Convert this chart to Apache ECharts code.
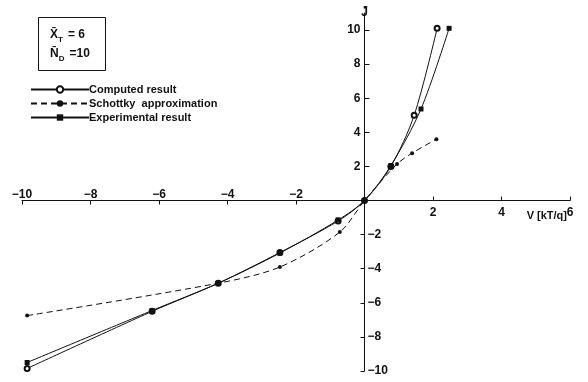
<!DOCTYPE html>
<html>
<head>
<meta charset="utf-8">
<script src="https://cdn.jsdelivr.net/npm/echarts@6/dist/echarts.min.js"></script>
<style>
  html, body { margin: 0; padding: 0; background: #fff; }
  #main { width: 588px; height: 382px; }
</style>
</head>
<body>
<div id="main"></div>
<script>
var chartDom = document.getElementById('main');
var myChart = echarts.init(chartDom);

// readings: [V, J]
var computed = [
  [-9.85, -9.85], [-6.2, -6.5], [-4.27, -4.85], [-2.47, -3.05], [-0.77, -1.2],
  [0, 0], [0.77, 2.0], [1.45, 5.0], [2.12, 10.1]
];
var schottky = [
  [-9.85, -6.75], [-4.27, -4.85], [-2.47, -3.9], [-0.72, -1.85],
  [0, 0], [0.95, 2.14], [1.39, 2.78], [2.1, 3.6]
];
var experimental = [
  [-9.85, -9.5], [-6.2, -6.45], [-4.27, -4.85], [-2.47, -3.08], [-0.77, -1.14],
  [0, 0], [0.77, 2.05], [1.65, 5.37], [2.47, 10.1]
];

var xTicksPos = [2, 4, 6];
var xTicksNeg = [-10, -8, -6, -4, -2];
var yTicksPos = [2, 4, 6, 8, 10];
var yTicksNeg = [-2, -4, -6, -8, -10];

var xMin = -10, xMax = 6, yMin = -10, yMax = 11;

var font = 'Liberation Sans';
var ink = '#111';

// grid box, and the axes crossing at the origin (offset inward from left / bottom)
var gridL = 22, gridR = 18, gridT = 13, gridB = 11;
var gridW = 588 - gridL - gridR;
var gridH = 382 - gridT - gridB;
var yAxisShift = -((0 - xMin) / (xMax - xMin)) * gridW;
var xAxisShift = -((0 - yMin) / (yMax - yMin)) * gridH;

function minus(v) {
  return String(v).replace('-', '\u2212');
}

var tickFont = { fontFamily: font, fontWeight: 'bold', fontSize: 12, color: ink };

var option = {
  animation: false,
  backgroundColor: '#fff',
  title: {
    left: 38,
    top: 17,
    text: '{x|X\u0304}{s|T} {x|= 6}\n{x|N\u0304}{s|D} {x|=10}',
    borderColor: ink,
    borderWidth: 1,
    padding: [8, 16, 8, 12],
    textStyle: {
      rich: {
        x: { fontFamily: font, fontWeight: 'bold', fontSize: 12, color: ink, lineHeight: 19 },
        s: { fontFamily: font, fontWeight: 'bold', fontSize: 8, color: ink, verticalAlign: 'bottom', lineHeight: 19 }
      }
    }
  },
  legend: {
    orient: 'vertical',
    left: 25,
    top: 79,
    itemWidth: 58,
    itemHeight: 8,
    itemGap: 3,
    textStyle: { fontFamily: font, fontWeight: 'bold', fontSize: 11, color: ink, padding: [0, 0, 0, -5] },
    data: ['Computed result', 'Schottky  approximation', 'Experimental result']
  },
  grid: {
    left: gridL,
    right: gridR,
    top: gridT,
    bottom: gridB,
    containLabel: false,
    outerBoundsMode: 'none'
  },
  xAxis: [
    {
      type: 'value',
      min: xMin,
      max: xMax,
      position: 'bottom',
      offset: xAxisShift,
      axisLine: { onZero: false, lineStyle: { color: ink, width: 1 } },
      axisTick: { inside: true, length: 4, customValues: xTicksPos, lineStyle: { color: ink } },
      axisLabel: Object.assign({ customValues: xTicksPos, margin: 6 }, tickFont),
      splitLine: { show: false },
      name: 'V [kT/q]',
      nameLocation: 'end',
      nameGap: -3,
      nameMoveOverlap: false,
      nameTextStyle: {
        fontFamily: font, fontWeight: 'bold', fontSize: 11, color: ink,
        align: 'right', verticalAlign: 'top', padding: [10, 0, 0, 0]
      }
    },
    {
      type: 'value',
      min: xMin,
      max: xMax,
      position: 'bottom',
      offset: xAxisShift,
      axisLine: { show: false, onZero: false },
      axisTick: { inside: false, length: 4, customValues: xTicksNeg, lineStyle: { color: ink } },
      axisLabel: Object.assign({ inside: true, customValues: xTicksNeg, margin: 0, formatter: minus }, tickFont),
      splitLine: { show: false }
    }
  ],
  yAxis: [
    {
      type: 'value',
      min: yMin,
      max: yMax,
      position: 'left',
      offset: yAxisShift,
      axisLine: { onZero: false, lineStyle: { color: ink, width: 1 } },
      axisTick: { inside: true, length: 5, customValues: yTicksPos, lineStyle: { color: ink } },
      axisLabel: Object.assign({ customValues: yTicksPos, margin: 4 }, tickFont),
      splitLine: { show: false },
      name: 'J\u0304',
      nameLocation: 'end',
      nameGap: -6,
      nameMoveOverlap: false,
      nameTextStyle: { fontFamily: font, fontWeight: 'bold', fontSize: 12, color: ink, verticalAlign: 'bottom' }
    },
    {
      type: 'value',
      min: yMin,
      max: yMax,
      position: 'left',
      offset: yAxisShift,
      axisLine: { show: false, onZero: false },
      axisTick: { inside: false, length: 4, customValues: yTicksNeg, lineStyle: { color: ink } },
      axisLabel: Object.assign({ inside: true, customValues: yTicksNeg, margin: 3, formatter: minus }, tickFont),
      splitLine: { show: false }
    }
  ],
  series: [
    {
      name: 'Computed result',
      type: 'line',
      data: computed,
      smooth: 0.3,
      symbol: 'emptyCircle',
      symbolSize: 5,
      lineStyle: { color: ink, width: 1 },
      itemStyle: { color: ink, borderColor: ink, borderWidth: 1 }
    },
    {
      name: 'Schottky  approximation',
      type: 'line',
      data: schottky,
      smooth: 0.3,
      symbol: 'circle',
      symbolSize: 4,
      lineStyle: { color: ink, width: 1, type: [6, 4] },
      itemStyle: { color: ink }
    },
    {
      name: 'Experimental result',
      type: 'line',
      data: experimental,
      smooth: 0.3,
      symbol: 'rect',
      symbolSize: 5,
      lineStyle: { color: ink, width: 1 },
      itemStyle: { color: ink }
    }
  ]
};

myChart.setOption(option);
</script>
</body>
</html>
